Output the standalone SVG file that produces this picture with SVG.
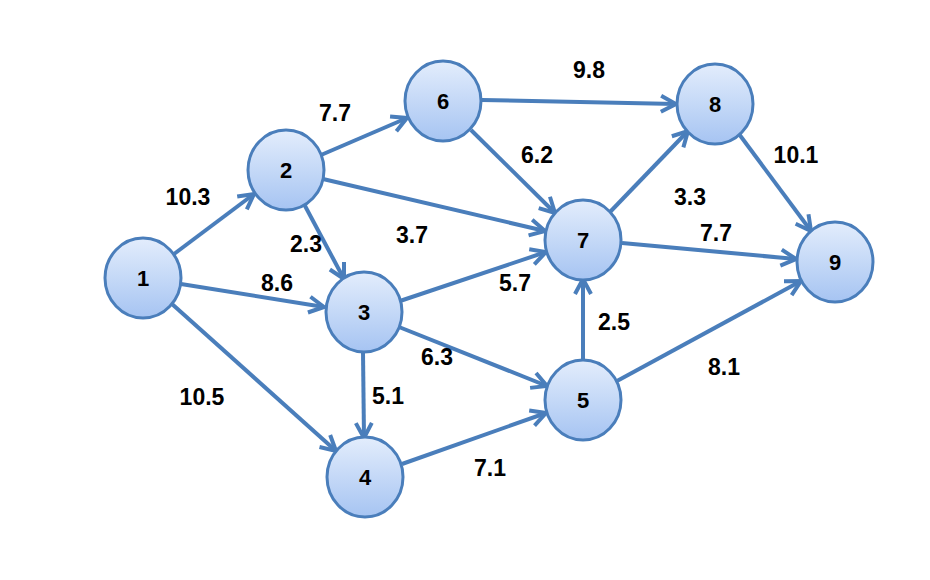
<svg xmlns="http://www.w3.org/2000/svg" width="930" height="580" viewBox="0 0 930 580">
<defs>
<linearGradient id="g" x1="0" y1="0" x2="0" y2="1"><stop offset="0" stop-color="#e3edfc"/><stop offset="1" stop-color="#a6c4f2"/></linearGradient>
<marker id="a" markerUnits="userSpaceOnUse" markerWidth="22" markerHeight="22" viewBox="0 0 22 22" refX="19" refY="11" orient="auto"><path d="M4,3 L19,11 L4,19" fill="none" stroke="#4a7ebb" stroke-width="4" stroke-linejoin="miter"/></marker>
<style>
.e{stroke:#4a7ebb;stroke-width:4;fill:none;marker-end:url(#a)}
.n ellipse{fill:url(#g);stroke:#4a7ebb;stroke-width:3}
.n text{font:bold 22px "Liberation Sans",Arial,sans-serif;text-anchor:middle;fill:#000}
.l{font:bold 23px "Liberation Sans",Arial,sans-serif;text-anchor:middle;fill:#000}
</style>
</defs>
<rect width="930" height="580" fill="#fff"/>
<g id="connectors">
<line class="e" x1="174" y1="254" x2="254" y2="194"/>
<line class="e" x1="181" y1="284" x2="324" y2="307"/>
<line class="e" x1="172" y1="304" x2="336" y2="451"/>
<line class="e" x1="321" y1="155" x2="407" y2="118"/>
<line class="e" x1="323" y1="179" x2="545" y2="231"/>
<line class="e" x1="304" y1="204" x2="344" y2="279"/>
<line class="e" x1="400" y1="301" x2="546" y2="252"/>
<line class="e" x1="399" y1="327" x2="547" y2="386"/>
<line class="e" x1="363" y1="352" x2="364" y2="438"/>
<line class="e" x1="402" y1="464" x2="546" y2="413"/>
<line class="e" x1="583" y1="361" x2="583" y2="279"/>
<line class="e" x1="617" y1="381" x2="801" y2="281"/>
<line class="e" x1="482" y1="100" x2="676" y2="104"/>
<line class="e" x1="471" y1="130" x2="555" y2="213"/>
<line class="e" x1="610" y1="212" x2="688" y2="131"/>
<line class="e" x1="622" y1="243" x2="796" y2="259"/>
<line class="e" x1="739" y1="134" x2="811" y2="231"/>
</g>
<g id="labels">
<text class="l" x="188" y="205">10.3</text>
<text class="l" x="277" y="291">8.6</text>
<text class="l" x="202" y="405">10.5</text>
<text class="l" x="335" y="121">7.7</text>
<text class="l" x="306" y="252">2.3</text>
<text class="l" x="412" y="243">3.7</text>
<text class="l" x="515" y="291">5.7</text>
<text class="l" x="437" y="365">6.3</text>
<text class="l" x="388" y="404">5.1</text>
<text class="l" x="490" y="476">7.1</text>
<text class="l" x="589" y="78">9.8</text>
<text class="l" x="537" y="163">6.2</text>
<text class="l" x="614" y="330">2.5</text>
<text class="l" x="690" y="205">3.3</text>
<text class="l" x="716" y="241">7.7</text>
<text class="l" x="796" y="163">10.1</text>
<text class="l" x="724" y="375">8.1</text>
</g>
<g id="n1" class="n"><ellipse cx="143" cy="278" rx="38" ry="40"/><text x="143" y="286">1</text></g>
<g id="n2" class="n"><ellipse cx="286" cy="170" rx="38" ry="40"/><text x="286" y="178">2</text></g>
<g id="n3" class="n"><ellipse cx="364" cy="312" rx="38" ry="40"/><text x="364" y="320">3</text></g>
<g id="n4" class="n"><ellipse cx="365" cy="477" rx="38" ry="40"/><text x="365" y="485">4</text></g>
<g id="n5" class="n"><ellipse cx="583" cy="400" rx="38" ry="40"/><text x="583" y="408">5</text></g>
<g id="n6" class="n"><ellipse cx="443" cy="101" rx="38" ry="40"/><text x="443" y="109">6</text></g>
<g id="n7" class="n"><ellipse cx="583" cy="240" rx="38" ry="40"/><text x="583" y="248">7</text></g>
<g id="n8" class="n"><ellipse cx="715" cy="104" rx="38" ry="40"/><text x="715" y="112">8</text></g>
<g id="n9" class="n"><ellipse cx="835" cy="262" rx="38" ry="40"/><text x="835" y="270">9</text></g>
</svg>
